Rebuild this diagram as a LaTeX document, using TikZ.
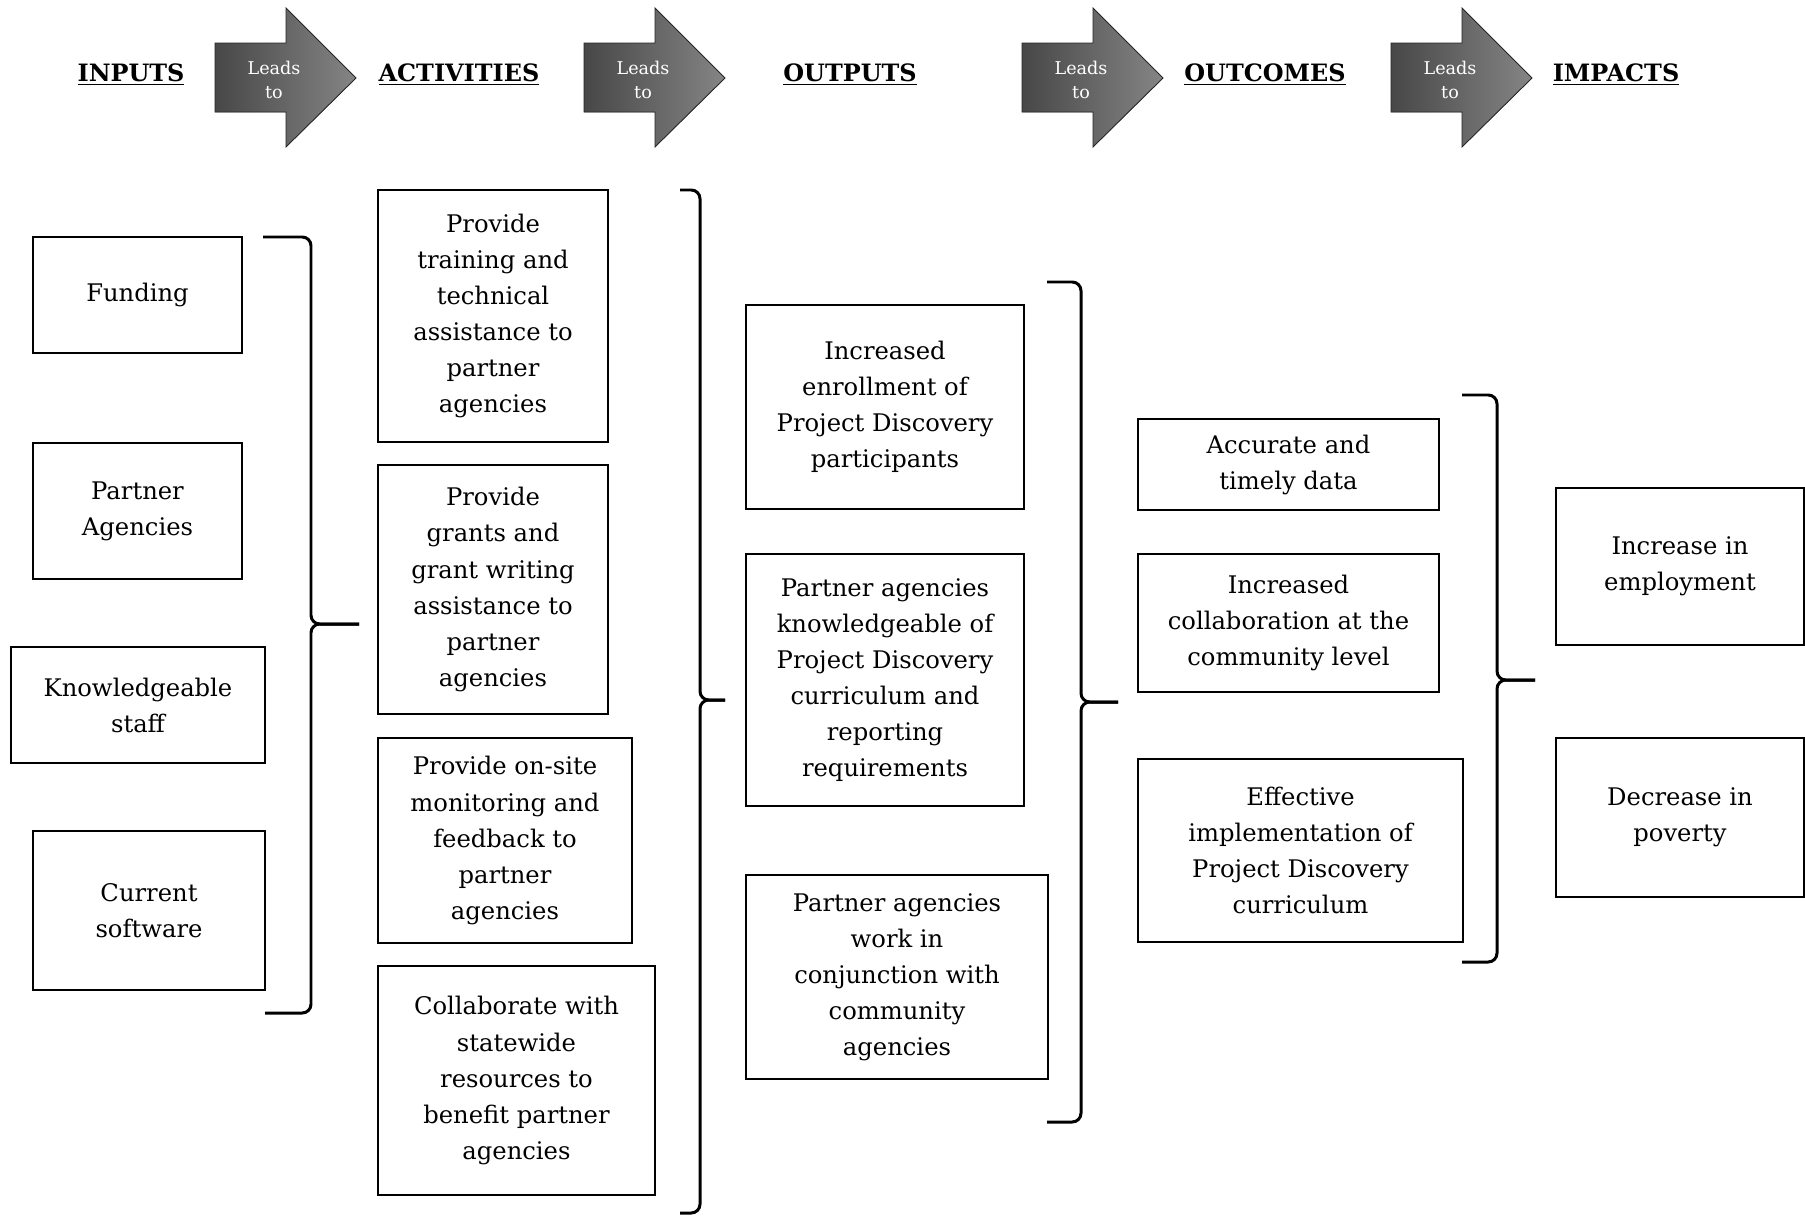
\documentclass[tikz,border=0pt]{standalone}
\usepackage{fontspec}
\setmainfont{DejaVu Serif}
\usepackage{tikz}

\begin{document}
\begin{tikzpicture}[
    x=0.02cm, y=-0.02cm,
    box/.style 2 args={rectangle, draw, line width=0.9pt, inner sep=0pt, align=center, font=\fontsize{13.8}{20.5}\selectfont, minimum width=#1*0.02cm, minimum height=#2*0.02cm},
    head/.style={font=\fontsize{13.6}{16}\selectfont\bfseries, inner sep=0pt},
    lead/.style={font=\fontsize{10}{13.5}\selectfont, text=white, align=center, inner sep=0pt},
    leadfill/.style={left color=black!72, right color=black!48, draw=black!85, line width=0.5pt},
    brace/.style={line width=1.7pt, rounded corners=5pt}
]
  \useasboundingbox (0,0) rectangle (1805,1217);

  % Header row
  \node[head] (inputs) at (131,75) {\underline{INPUTS}};
  \node[head] (activities) at (459,75) {\underline{ACTIVITIES}};
  \node[head] (outputs) at (850,75) {\underline{OUTPUTS}};
  \node[head] (outcomes) at (1265,75) {\underline{OUTCOMES}};
  \node[head] (impacts) at (1616,75) {\underline{IMPACTS}};

  % Leads to arrows
  \foreach \x/\n in {215/1, 584/2, 1022/3, 1391/4} {
    \fill[leadfill] (\x,43) -- ++(71,0) -- ++(0,-35) -- (\x+141,78) -- (\x+71,147) -- ++(0,-35) -- (\x,112) -- cycle;
    \node[lead] (lead\n) at (\x+59,80) {Leads\\to};
  }

  % Inputs
  \node[box={209}{116}] (funding) at (137.5,295) {Funding};
  \node[box={209}{136}] (partner) at (137.5,511) {Partner\\Agencies};
  \node[box={254}{116}] (staff) at (138,705) {Knowledgeable\\staff};
  \node[box={232}{159}] (software) at (149,910.5) {Current\\software};

  % Activities
  \node[box={230}{252}] (training) at (493,316) {Provide\\training and\\technical\\assistance to\\partner\\agencies};
  \node[box={230}{249}] (grants) at (493,589.5) {Provide\\grants and\\grant writing\\assistance to\\partner\\agencies};
  \node[box={254}{205}] (monitor) at (505,840.5) {Provide on-site\\monitoring and\\feedback to\\partner\\agencies};
  \node[box={277}{229}] (collab) at (516.5,1080.5) {Collaborate with\\statewide\\resources to\\benefit partner\\agencies};

  % Outputs
  \node[box={278}{204}] (enroll) at (885,407) {Increased\\enrollment of\\Project Discovery\\participants};
  \node[box={278}{252}] (knowl) at (885,680) {Partner agencies\\knowledgeable of\\Project Discovery\\curriculum and\\reporting\\requirements};
  \node[box={302}{204}] (conj) at (897,977) {Partner agencies\\work in\\conjunction with\\community\\agencies};

  % Outcomes
  \node[box={301}{91}] (data) at (1288.5,464.5) {Accurate and\\timely data};
  \node[box={301}{138}] (commun) at (1288.5,623) {Increased\\collaboration at the\\community level};
  \node[box={325}{183}] (effect) at (1300.5,850.5) {Effective\\implementation of\\Project Discovery\\curriculum};

  % Impacts
  \node[box={248}{157}] (employ) at (1680,566.5) {Increase in\\employment};
  \node[box={248}{159}] (poverty) at (1680,817.5) {Decrease in\\poverty};

  % Brackets
  \draw[brace] (263,237) -| (311,624) -- (359,624);
  \draw[brace] (359,624) -| (311,1013) -- (265,1013);
  \draw[brace] (680,190) -| (700,700) -- (725,700);
  \draw[brace] (725,700) -| (700,1213) -- (680,1213);
  \draw[brace] (1047,282) -| (1081,702) -- (1118,702);
  \draw[brace] (1118,702) -| (1081,1122) -- (1047,1122);
  \draw[brace] (1462,395) -| (1497,680) -- (1535,680);
  \draw[brace] (1535,680) -| (1497,962) -- (1462,962);
\end{tikzpicture}
\end{document}
